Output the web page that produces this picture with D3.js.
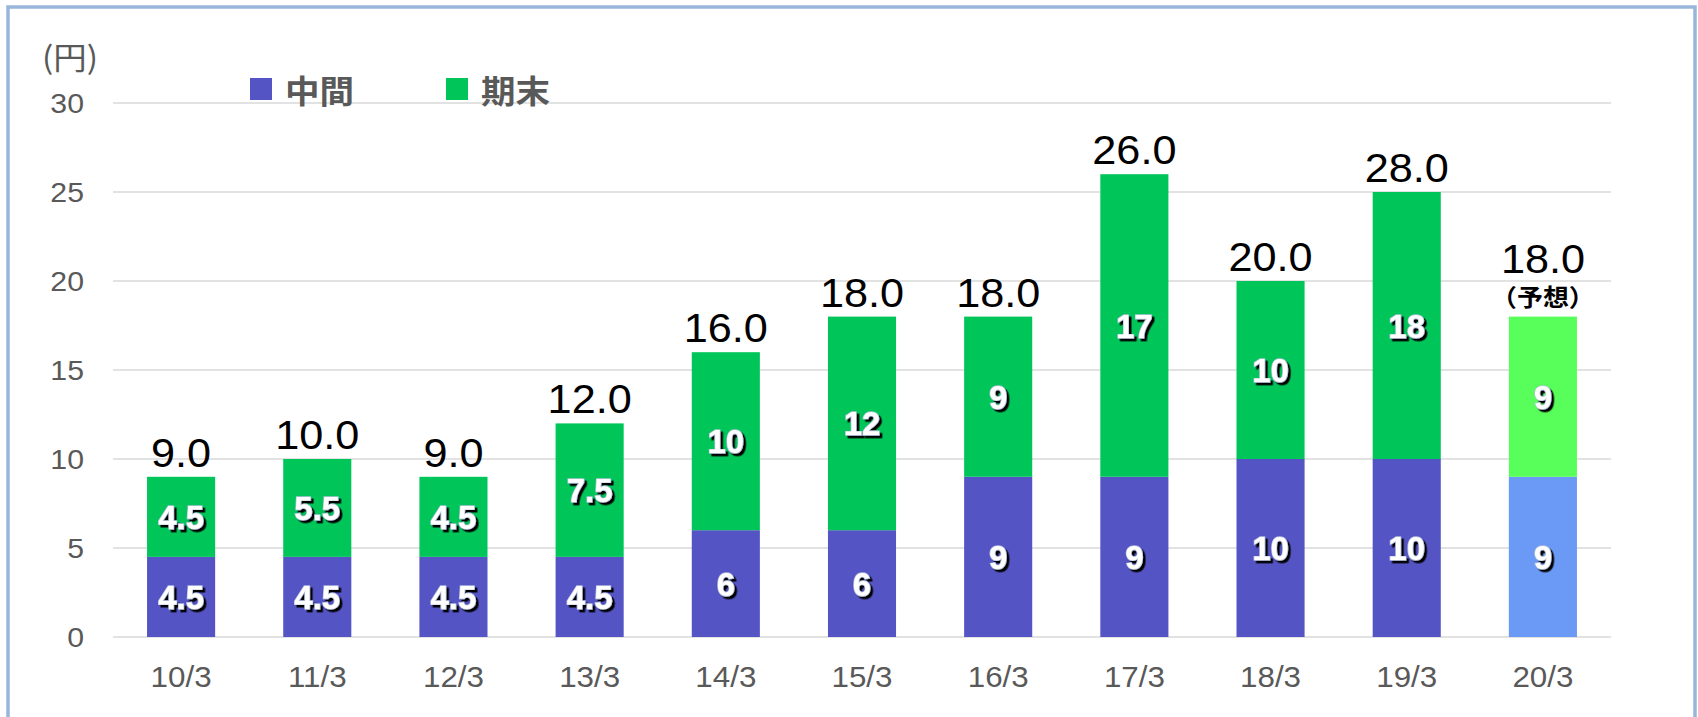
<!DOCTYPE html>
<html>
<head>
<meta charset="utf-8">
<script src="https://cdn.jsdelivr.net/npm/d3@7"></script>
<style>
  html, body { margin: 0; padding: 0; background: #fff; }
  svg { display: block; }
</style>
</head>
<body>
<svg id="chart" width="1698" height="717"></svg>
<script>
// values
const periods   = ['10/3', '11/3', '12/3', '13/3', '14/3', '15/3', '16/3', '17/3', '18/3', '19/3', '20/3'];
const interim   = [4.5, 4.5, 4.5, 4.5, 6, 6, 9, 9, 10, 10, 9];      // 中間 (drawn height)
const yearEnd   = [4.5, 5.5, 4.5, 7.5, 10, 12, 9, 17, 10, 15, 9];   // 期末 (drawn height)
const interimLabels = ['4.5', '4.5', '4.5', '4.5', '6', '6', '9', '9', '10', '10', '9'];
const yearEndLabels = ['4.5', '5.5', '4.5', '7.5', '10', '12', '9', '17', '10', '18', '9'];
const totalLabels   = ['9.0', '10.0', '9.0', '12.0', '16.0', '18.0', '18.0', '26.0', '20.0', '28.0', '18.0'];
const forecast  = [false, false, false, false, false, false, false, false, false, false, true];
const yTicks    = [0, 5, 10, 15, 20, 25, 30];
const seriesNames = ['中間', '期末'];

const colInterim = '#5454c5', colYearEnd = '#00c65a';
const colInterimF = '#6a9af5', colYearEndF = '#58ff5a';
const numFont = '"Liberation Sans", Arial, sans-serif';
const jpFont = '"Noto Sans CJK JP", "Noto Sans", sans-serif';
const SX = 1.08; // text in the reference is slightly wide

const svg = d3.select('#chart');

const defs = svg.append('defs');
const shadow = defs.append('filter').attr('id', 'shadow')
  .attr('x', '-20%').attr('y', '-20%').attr('width', '140%').attr('height', '140%');
shadow.append('feDropShadow')
  .attr('dx', 2.5).attr('dy', 2.5).attr('stdDeviation', 0.6)
  .attr('flood-color', '#000').attr('flood-opacity', 1);

// frame
svg.append('rect')
  .attr('x', 8).attr('y', 7).attr('width', 1687).attr('height', 740)
  .attr('fill', 'none').attr('stroke', '#98b5da').attr('stroke-width', 3.5);

const x = d3.scaleBand().domain(periods).range([113, 1611])
  .paddingInner(0.5).paddingOuter(0.25);
const y = d3.scaleLinear().domain([0, 30]).range([637, 103]);

function put(sel, px, py, sx = SX) {
  return sel.attr('transform', `translate(${px},${py}) scale(${sx},1)`);
}

// gridlines
svg.append('g').selectAll('line').data(yTicks).join('line')
  .attr('x1', 113).attr('x2', 1611)
  .attr('y1', d => y(d)).attr('y2', d => y(d))
  .attr('stroke', '#d9d9d9').attr('stroke-width', 1.5);

// y tick labels
svg.append('g').selectAll('text').data(yTicks).join('text')
  .each(function(d) { put(d3.select(this), 84, y(d) + 10); })
  .attr('text-anchor', 'end')
  .attr('font-family', numFont).attr('font-size', 28).attr('fill', '#595959')
  .text(d => d);

// unit
put(svg.append('text'), 70, 69)
  .attr('text-anchor', 'middle')
  .attr('font-family', jpFont).attr('font-size', 31).attr('fill', '#595959')
  .text('(円)');

// x tick labels
svg.append('g').selectAll('text').data(periods).join('text')
  .each(function(d) { put(d3.select(this), x(d) + x.bandwidth() / 2, 687); })
  .attr('text-anchor', 'middle')
  .attr('font-family', numFont).attr('font-size', 29).attr('fill', '#595959')
  .text(d => d);

// bars
const rows = periods.map((p, i) => ({
  p, i, a: interim[i], b: yearEnd[i], f: forecast[i]
}));

const g = svg.append('g');
g.selectAll('rect.interim').data(rows).join('rect')
  .attr('class', 'interim')
  .attr('x', d => x(d.p)).attr('width', x.bandwidth())
  .attr('y', d => y(d.a)).attr('height', d => y(0) - y(d.a))
  .attr('fill', d => d.f ? colInterimF : colInterim);
g.selectAll('rect.yearend').data(rows).join('rect')
  .attr('class', 'yearend')
  .attr('x', d => x(d.p)).attr('width', x.bandwidth())
  .attr('y', d => y(d.a + d.b)).attr('height', d => y(d.a) - y(d.a + d.b))
  .attr('fill', d => d.f ? colYearEndF : colYearEnd);

// segment labels
function segLabel(mid, label) {
  svg.append('g').selectAll('text').data(rows).join('text')
    .each(function(d) { put(d3.select(this), x(d.p) + x.bandwidth() / 2, y(mid(d)) + 12, 1.0); })
    .attr('text-anchor', 'middle')
    .attr('font-family', numFont).attr('font-weight', 'bold').attr('font-size', 33)
    .attr('fill', '#fff').attr('stroke', '#b4c0dc').attr('stroke-width', 1.4)
    .attr('paint-order', 'stroke')
    .attr('filter', 'url(#shadow)')
    .text(d => label[d.i]);
}
segLabel(d => d.a / 2, interimLabels);
segLabel(d => d.a + d.b / 2, yearEndLabels);

// totals
svg.append('g').selectAll('text').data(rows).join('text')
  .each(function(d) { put(d3.select(this), x(d.p) + x.bandwidth() / 2, y(d.a + d.b) - (d.f ? 44 : 10)); })
  .attr('text-anchor', 'middle')
  .attr('font-family', numFont).attr('font-size', 40).attr('fill', '#000')
  .text(d => totalLabels[d.i]);

svg.append('g').selectAll('text').data(rows.filter(d => d.f)).join('text')
  .each(function(d) { put(d3.select(this), x(d.p) + x.bandwidth() / 2, y(d.a + d.b) - 11); })
  .attr('text-anchor', 'middle')
  .attr('font-family', jpFont).attr('font-weight', 'bold').attr('font-size', 24).attr('fill', '#000')
  .text('（予想）');

// legend
const legendX = [250, 446];
const lg = svg.append('g').selectAll('g').data(seriesNames).join('g')
  .attr('transform', (d, i) => `translate(${legendX[i]},78)`);
lg.append('rect').attr('width', 22).attr('height', 22)
  .attr('fill', (d, i) => i === 0 ? colInterim : colYearEnd);
lg.append('text')
  .attr('transform', `translate(35,25) scale(${SX},1)`)
  .attr('font-family', jpFont).attr('font-weight', 'bold').attr('font-size', 32)
  .attr('fill', '#595959')
  .text(d => d);
</script>
</body>
</html>
